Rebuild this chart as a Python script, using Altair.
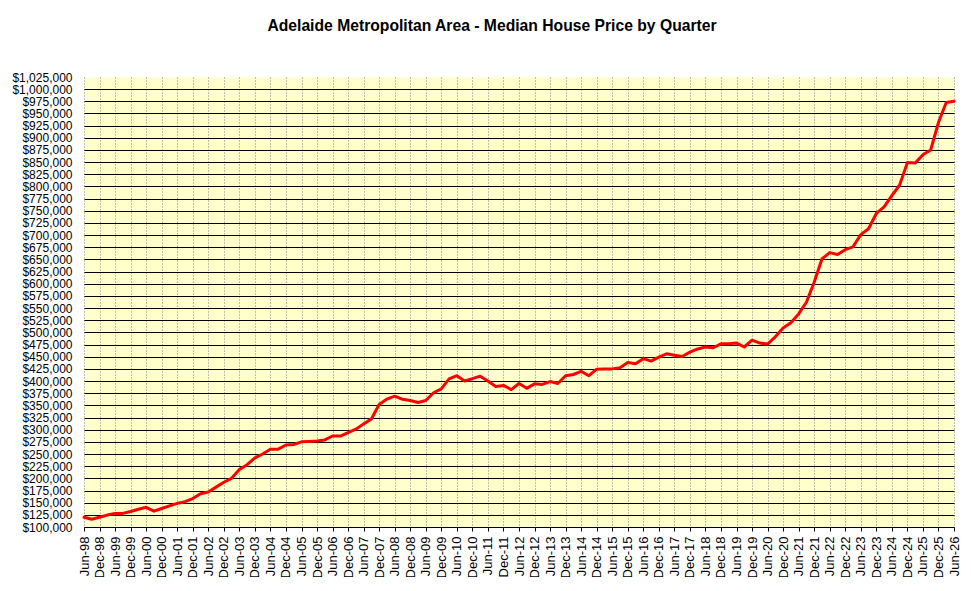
import altair as alt
import pandas as pd

# Quarter labels (Jun-98 .. Jun-26)
quarters = []
for yr in range(1998, 2026):
    quarters.append(f"Jun-{yr % 100:02d}")
    quarters.append(f"Sep-{yr % 100:02d}")
    quarters.append(f"Dec-{yr % 100:02d}")
    quarters.append(f"Mar-{(yr + 1) % 100:02d}")
quarters.append("Jun-26")

# Median house price per quarter
prices = [
    120000, 116000, 120000, 124500,   # Jun-98 .. Mar-99
    128000, 128000, 132000, 136500,   # Jun-99 .. Mar-00
    140500, 132500, 138000, 143500,   # Jun-00 .. Mar-01
    148500, 152000, 158500, 168500,   # Jun-01 .. Mar-02
    172000, 182000, 192000, 200000,   # Jun-02 .. Mar-03
    218000, 228000, 242000, 250000,   # Jun-03 .. Mar-04
    260000, 260000, 268500, 269500,   # Jun-04 .. Mar-05
    275000, 276000, 277000, 279000,   # Jun-05 .. Mar-06
    287000, 287000, 294000, 301000,   # Jun-06 .. Mar-07
    312000, 322000, 352000, 363000,   # Jun-07 .. Mar-08
    369000, 362500, 360000, 356000,   # Jun-08 .. Mar-09
    360000, 376000, 384000, 404500,   # Jun-09 .. Mar-10
    411000, 400000, 405000, 410000,   # Jun-10 .. Mar-11
    400000, 389000, 391000, 382500,   # Jun-11 .. Mar-12
    395000, 385000, 394500, 393000,   # Jun-12 .. Mar-13
    399000, 395000, 411000, 413500,   # Jun-13 .. Mar-14
    420000, 411000, 424500, 425000,   # Jun-14 .. Mar-15
    425000, 427500, 438000, 435500,   # Jun-15 .. Mar-16
    446000, 441000, 449000, 456000,   # Jun-16 .. Mar-17
    453000, 450500, 459500, 466000,   # Jun-17 .. Mar-18
    470000, 468500, 476500, 476500,   # Jun-18 .. Mar-19
    478000, 470000, 484000, 478000,   # Jun-19 .. Mar-20
    476000, 491000, 509000, 520000,   # Jun-20 .. Mar-21
    538000, 562000, 603000, 651000,   # Jun-21 .. Mar-22
    664000, 660000, 670000, 676000,   # Jun-22 .. Mar-23
    701000, 713000, 744500, 758000,   # Jun-23 .. Mar-24
    781000, 803000, 849000, 848000,   # Jun-24 .. Mar-25
    865000, 875000, 931500, 972500,   # Jun-25 .. Mar-26
    975000,                           # Jun-26
]

tick_labels = [q for q in quarters if q.startswith("Jun") or q.startswith("Dec")]
y_ticks = list(range(100000, 1025001, 25000))

df = pd.DataFrame({"quarter": quarters, "price": prices})

FONT = "Liberation Sans"

x_enc = alt.X(
    "quarter:O",
    sort=None,
    scale=alt.Scale(type="point", padding=0),
    axis=alt.Axis(
        values=tick_labels,
        title=None,
        labelAngle=-90,
        labelFont=FONT,
        labelFontSize=13,
        labelColor="black",
        labelPadding=5,
        labelOverlap=False,
        tickColor="black",
        tickSize=4,
        domainColor="black",
        domainWidth=1,
        grid=True,
        gridColor="#7f7f7f",
        gridDash=[1, 2],
        gridWidth=1,
    ),
)

y_enc = alt.Y(
    "price:Q",
    scale=alt.Scale(domain=[100000, 1025000], nice=False, zero=False),
    axis=alt.Axis(
        values=y_ticks,
        format="$,.0f",
        title=None,
        labelFont=FONT,
        labelFontSize=12,
        labelColor="black",
        labelPadding=12,
        labelOverlap=False,
        labelFlush=False,
        ticks=False,
        domain=False,
        grid=True,
        gridColor={
            "condition": {"test": "datum.value >= 1025000", "value": "rgba(0,0,0,0)"},
            "value": "black",
        },
        gridWidth=1,
    ),
)

chart = (
    alt.Chart(df)
    .mark_line(color="#FF0000", strokeWidth=3, strokeJoin="round", strokeCap="round")
    .encode(x=x_enc, y=y_enc)
    .properties(
        width=870,
        height=450,
        autosize=alt.AutoSizeParams(type="none"),
        padding={"left": 76, "top": 69, "right": 8, "bottom": 50},
        title=alt.TitleParams(
            "Adelaide Metropolitan Area - Median House Price by Quarter",
            font=FONT,
            fontSize=15.7,
            fontWeight="bold",
            color="black",
            anchor="middle",
            dx=-27,
            offset=36,
        ),
    )
    .configure_view(fill="#FFFFCC", stroke="transparent")
)

chart.save("out.html", embed_options={"renderer": "svg", "actions": False})
